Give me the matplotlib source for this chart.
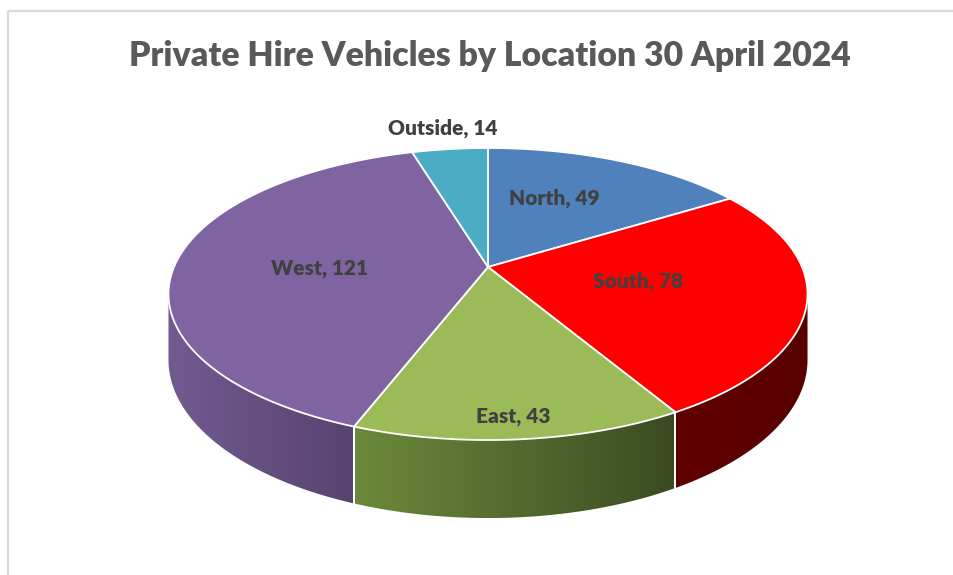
import numpy as np
import matplotlib
matplotlib.use("Agg")
import matplotlib.pyplot as plt
from matplotlib.patches import Polygon, Rectangle
from matplotlib.colors import to_rgb

# ---- data ----
categories = ["North", "South", "East", "West", "Outside"]
values = [49, 78, 43, 121, 14]
top_colors = ["#4f81bd", "#ff0000", "#9bbb59", "#8064a2", "#4bacc6"]
side_left = ["#3a5f8c", "#600000", "#6b8a3b", "#715b90", "#387f93"]
side_right = ["#2a4468", "#580000", "#3b4a22", "#57436f", "#2a6070"]
title = "Private Hire Vehicles by Location 30 April 2024"

W, H = 954, 575
fig = plt.figure(figsize=(W / 100, H / 100), dpi=100)
ax = fig.add_axes([0, 0, 1, 1])
ax.set_xlim(0, W)
ax.set_ylim(H, 0)
ax.axis("off")

# projection parameters (pixel space)
cx, cy, R, B, c, D = 488, 267, 314, 141, 0.185, 63.6


def proj(t, z=0.0):
    u, v = np.cos(t), np.sin(t)
    s = 1.0 / (1.0 + c * v)
    return cx + R * u * s, cy - B * v * s + z * D * s


total = float(sum(values))
angles = []
cum = 0.0
for v in values:
    a0 = 90 - cum / total * 360
    cum += v
    a1 = 90 - cum / total * 360
    angles.append((a0, a1))

tsil = np.degrees(np.arcsin(c))
vis_lo, vis_hi = 180 + tsil, 360 - tsil

# border
ax.add_patch(Rectangle((8, 11), 1000, 1000, fill=False, edgecolor="#d9d9d9", lw=1.6, zorder=0))

# sides
for i, (a0, a1) in enumerate(angles):
    lo_, hi_ = min(a0, a1), max(a0, a1)
    for shift in (0, 360, -360):
        l, h = lo_ + shift, hi_ + shift
        L, Hh = max(l, vis_lo), min(h, vis_hi)
        if Hh <= L:
            continue
        ts = np.radians(np.linspace(L, Hh, 300))
        top = [proj(t) for t in ts]
        bot = [proj(t, 1) for t in ts[::-1]]
        pts = np.array(top + bot)
        poly = Polygon(pts, closed=True, facecolor="none", edgecolor="none", zorder=1)
        ax.add_patch(poly)
        x0, x1 = pts[:, 0].min(), pts[:, 0].max()
        y0, y1 = pts[:, 1].min(), pts[:, 1].max()
        n = 256
        f = np.linspace(0, 1, n)[None, :, None]
        grad = (1 - f) * np.array(to_rgb(side_left[i]))[None, None, :] + \
            f * np.array(to_rgb(side_right[i]))[None, None, :]
        grad = np.repeat(grad, 2, axis=0)
        im = ax.imshow(grad, extent=(x0 - 1, x1 + 1, y1 + 1, y0 - 1), aspect="auto",
                       interpolation="bilinear", zorder=1)
        im.set_clip_path(poly)
        for tb in (L, Hh):
            if vis_lo + 0.5 < tb < vis_hi - 0.5:
                xa, ya = proj(np.radians(tb))
                xb, yb = proj(np.radians(tb), 1)
                ax.plot([xa, xb], [ya, yb], color="white", lw=1.3, zorder=3)

ax.set_xlim(0, W)
ax.set_ylim(H, 0)

# top slices
for i, (a0, a1) in enumerate(angles):
    ts = np.radians(np.linspace(a0, a1, 200))
    pts = [(cx, cy)] + [proj(t) for t in ts]
    ax.add_patch(Polygon(pts, closed=True, facecolor=top_colors[i], edgecolor="white",
                         lw=1.3, joinstyle="round", zorder=4))

# labels
label_pos = {"North": (554, 198), "South": (638, 281), "East": (513, 417),
             "West": (320, 268), "Outside": (443, 128)}
for cat, val in zip(categories, values):
    x, y = label_pos[cat]
    ax.text(x, y, f"{cat}, {val}", ha="center", va="center", fontsize=15,
            fontweight="heavy", color="#404040", family=["Lato", "DejaVu Sans"], zorder=6)

ax.text(490, 56, title, ha="center", va="center", fontsize=24.3, fontweight="heavy",
        color="#595959", family=["Lato", "DejaVu Sans"], zorder=6)

fig.savefig("out.png", dpi=100)
